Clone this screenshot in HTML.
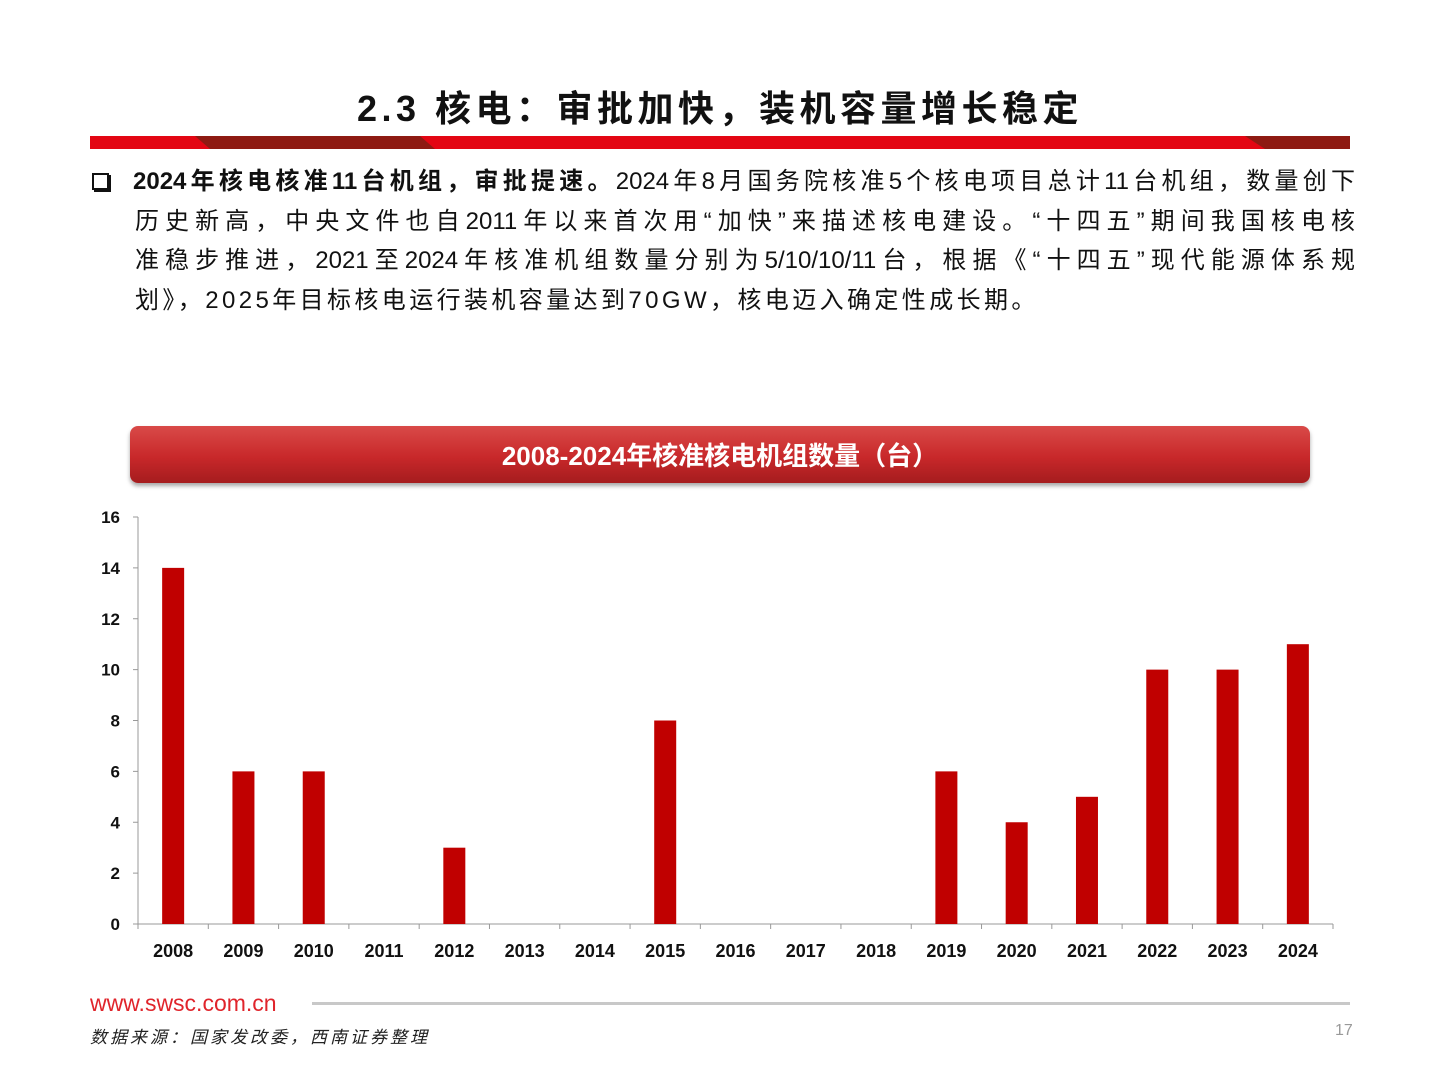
<!DOCTYPE html>
<html><head><meta charset="utf-8"><style>
body{margin:0;width:1440px;height:1080px;background:#fff;position:relative;overflow:hidden;font-family:"Liberation Sans","Noto Sans CJK SC",sans-serif;}
.abs{position:absolute;}
.line{position:absolute;left:135px;width:1220px;font-size:24px;line-height:40px;color:#111;text-align:justify;text-align-last:justify;white-space:nowrap;}
</style></head><body>
<div class="abs" style="left:0;width:1440px;top:80px;text-align:center;font-size:36px;font-weight:bold;color:#111;letter-spacing:4.5px">2.3 核电：审批加快，装机容量增长稳定</div>
<svg class="abs" style="left:90px;top:136px" width="1260" height="13">
<rect width="1260" height="13" fill="#e30613"/>
<polygon points="105,0 330,0 345,13 120,13" fill="#8e1a12"/>
<polygon points="1155,0 1260,0 1260,13 1175,13" fill="#8e1a12"/>
</svg>
<div class="abs" style="left:92px;top:173px;width:13px;height:13px;border:2px solid #111;box-shadow:2px 2px 0 #111"></div>
<div class="line" style="top:162px;left:133px;width:1222px"><b>2024年核电核准11台机组，审批提速。</b>2024年8月国务院核准5个核电项目总计11台机组，数量创下</div>
<div class="line" style="top:202px">历史新高，中央文件也自2011年以来首次用“加快”来描述核电建设。“十四五”期间我国核电核</div>
<div class="line" style="top:241px">准稳步推进，2021至2024年核准机组数量分别为5/10/10/11台，根据《“十四五”现代能源体系规</div>
<div class="abs" style="left:135px;top:281px;font-size:24px;line-height:40px;color:#111;white-space:nowrap;letter-spacing:3.4px">划》，2025年目标核电运行装机容量达到70GW，核电迈入确定性成长期。</div>
<div class="abs" style="left:130px;top:426px;width:1180px;height:57px;border-radius:8px;background:linear-gradient(#d94a48,#c8282a 55%,#a51c1e);box-shadow:0 3px 4px rgba(0,0,0,0.35);color:#fff;font-size:26px;font-weight:bold;text-align:center;line-height:60px">2008-2024年核准核电机组数量（台）</div>
<svg class="abs" id="chart" style="left:0;top:500px" width="1440" height="470"></svg>
<div class="abs" style="left:90px;top:990px;font-size:23px;color:#e0242b">www.swsc.com.cn</div>
<div class="abs" style="left:312px;top:1002px;width:1038px;height:3px;background:#c8c8c8"></div>
<div class="abs" style="left:90px;top:1023px;font-size:17px;font-style:italic;color:#222;letter-spacing:3px">数据来源：国家发改委，西南证券整理</div>
<div class="abs" style="left:1335px;top:1022px;font-size:16px;color:#999">17</div>
<script>
const categories=["2008","2009","2010","2011","2012","2013","2014","2015","2016","2017","2018","2019","2020","2021","2022","2023","2024"];
const values=[14,6,6,0,3,0,0,8,0,0,0,6,4,5,10,10,11];
const yTicks=[0,2,4,6,8,10,12,14,16];
const svg=document.getElementById('chart');
const NS='http://www.w3.org/2000/svg';
const x0=138,x1=1333,yBase=424,yTop=17,yMax=16;
const bw=(x1-x0)/categories.length;
const y=v=>yBase-(v/yMax)*(yBase-yTop);
const xc=i=>x0+bw*(i+0.5);
function mk(t,a){const e=document.createElementNS(NS,t);for(const k in a)e.setAttribute(k,a[k]);svg.appendChild(e);return e;}
const ya=mk('line',{x1:x0,x2:x0,y1:yTop,y2:yBase,stroke:'#999'});


const xa=mk('line',{x1:x0,x2:x1,y1:yBase,y2:yBase,stroke:'#999'});


yTicks.forEach(v=>{
  mk('line',{x1:x0-5,x2:x0,y1:y(v),y2:y(v),stroke:'#999'});
  const t=mk('text',{x:x0-18,y:y(v)+6,'text-anchor':'end','font-size':17,'font-weight':'bold',fill:'#111'});
  t.textContent=v;
  
  
});
for(let i=0;i<=categories.length;i++)mk('line',{x1:x0+bw*i,x2:x0+bw*i,y1:yBase,y2:yBase+5,stroke:'#999'});
categories.forEach((c,i)=>{
  const t=mk('text',{x:xc(i),y:yBase+33,'text-anchor':'middle','font-size':18,'font-weight':'bold',fill:'#111'});
  t.textContent=c;
  
  
  if(values[i]>0){
    const r=mk('rect',{x:xc(i)-11,y:y(values[i]),width:22,height:yBase-y(values[i]),fill:'#c00000'});
    
    
  }
});
</script>
</body></html>
